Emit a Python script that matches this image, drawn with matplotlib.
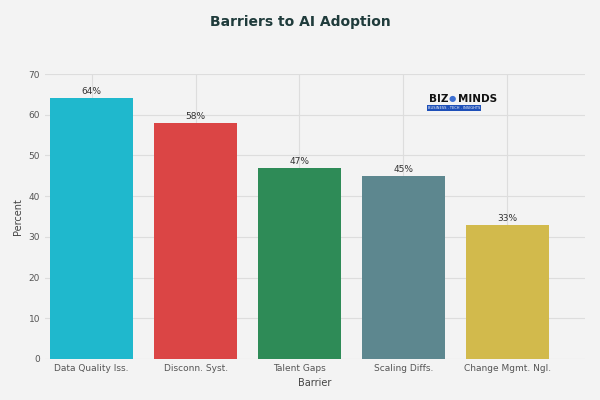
import matplotlib
matplotlib.use("Agg")
import matplotlib.pyplot as plt

categories = ["Data Quality Iss.", "Disconn. Syst.", "Talent Gaps", "Scaling Diffs.", "Change Mgmt. Ngl."]
values = [64, 58, 47, 45, 33]
colors = ["#1fb8cd", "#db4545", "#2e8b57", "#5d878f", "#d2ba4c"]

fig = plt.figure(figsize=(6, 4), dpi=100)
fig.patch.set_facecolor("#f3f3f3")
ax = fig.add_axes([0.075, 0.1025, 0.9, 0.7125])
ax.set_facecolor("#f3f3f3")
bars = ax.bar(categories, values, color=colors, width=0.8)
for b, v in zip(bars, values):
    ax.text(b.get_x() + b.get_width() / 2, v + 0.5, f"{v}%", ha="center", va="bottom", fontsize=6.5, color="#333333")
ax.set_ylim(0, 70)
ax.set_yticks(range(0, 71, 10))
ax.set_xlim(-0.45, 4.75)
ax.grid(True, color="#dddddd", linewidth=0.8)
ax.set_axisbelow(True)
for s in ax.spines.values():
    s.set_visible(False)
ax.tick_params(length=0, labelsize=6.5, colors="#555555")
ax.set_xlabel("Barrier", fontsize=7, color="#444444")
ax.set_ylabel("Percent", fontsize=7, color="#444444")
fig.text(0.5, 0.945, "Barriers to AI Adoption", ha="center", va="center", fontsize=10, color="#1f3b3b", fontweight="semibold")
fig.text(0.748, 0.752, "BIZ", fontsize=7.5, fontweight="heavy", color="#111111", ha="right", va="center")
fig.text(0.747, 0.754, "\u25cf", fontsize=6, color="#3d6fd1", ha="left", va="center")
fig.text(0.763, 0.752, "MINDS", fontsize=7.5, fontweight="heavy", color="#111111", ha="left", va="center")
fig.text(0.713, 0.73, "BUSINESS . TECH . INSIGHTS", fontsize=2.6, color="white", va="center",
         bbox=dict(boxstyle="square,pad=0.3", fc="#1d4fb8", ec="none"))
fig.savefig("out.png", dpi=100, facecolor=fig.get_facecolor())
